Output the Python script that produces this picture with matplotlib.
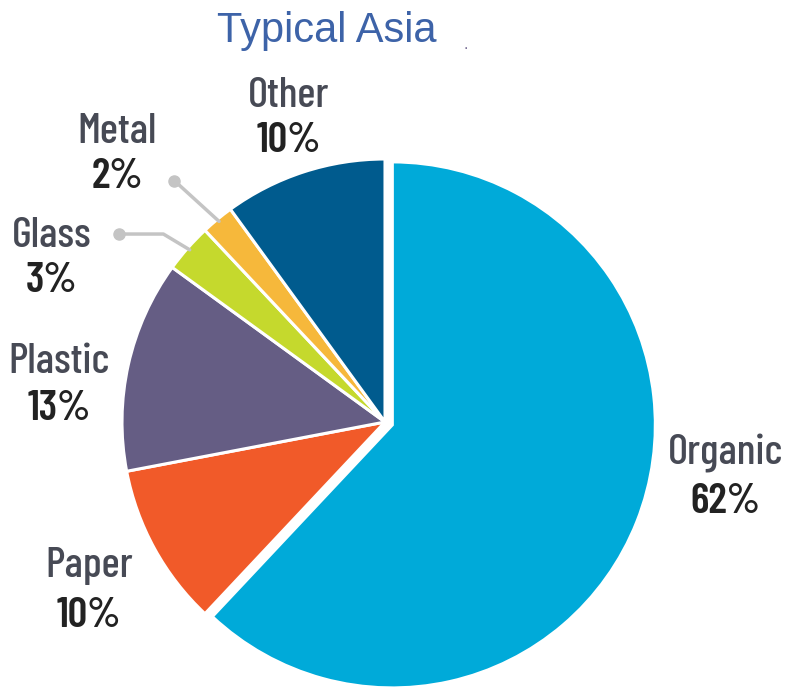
import matplotlib.pyplot as plt
import numpy as np

# waste composition, clockwise from 12 o'clock
categories = ["Organic", "Paper", "Plastic", "Glass", "Metal", "Other"]
shares = [62, 10, 13, 3, 2, 10]
pct_labels = ["62%", "10%", "13%", "3%", "2%", "10%"]
colors = ["#00AAD9", "#F15A29", "#655D84", "#C5D92D", "#F6B83B", "#005B8E"]
explode = [0.03, 0, 0, 0, 0, 0]

# label placement in px: centre x, baseline of name, baseline of percentage
label_px = {
    "Organic": (725, 465, 513),
    "Paper": (89, 577, 627),
    "Plastic": (59, 373, 420),
    "Glass": (52, 247, 292),
    "Metal": (117, 143, 188),
    "Other": (289, 107, 152),
}
leader = ["Glass", "Metal"]

W, H = 785, 695
scale = 263.0            # px per pie unit
cx, cy = 385.0, 422.0    # pie centre in px from top-left


def to_data(px, py):
    return (px - cx) / scale, (cy - py) / scale


fig = plt.figure(figsize=(W / 100, H / 100), dpi=100)
ax = fig.add_axes([0, 0, 1, 1])

wedges, _ = ax.pie(shares, colors=colors, startangle=90, counterclock=False,
                   explode=explode, radius=1.0,
                   wedgeprops=dict(edgecolor="white", linewidth=2.2))
ax.set_xlim(-cx / scale, (W - cx) / scale)
ax.set_ylim(-(H - cy) / scale, cy / scale)
ax.set_aspect("auto")
ax.axis("off")

lab_font = ["Barlow Condensed", "DejaVu Sans"]
for w, name, pct in zip(wedges, categories, pct_labels):
    px, b1, b2 = label_px[name]
    x, y1 = to_data(px, b1)
    _, y2 = to_data(px, b2)
    ax.text(x, y1, name, ha="center", va="baseline", fontsize=31,
            family=lab_font, fontweight="medium", color="#474a55")
    ax.text(x, y2, pct, ha="center", va="baseline", fontsize=31,
            family=lab_font, fontweight="semibold", color="#222222")
    if name in leader:
        mid = np.deg2rad((w.theta1 + w.theta2) / 2)
        ex, ey = np.cos(mid) * 0.99, np.sin(mid) * 0.99
        if name == "Metal":
            xs = [ex, ex - 0.17]
            ys = [ey, ey + 0.155]
        else:
            xs = [ex, ex - 0.10, ex - 0.27]
            ys = [ey, ey + 0.06, ey + 0.06]
        ax.plot(xs, ys, color="#c4c4c4", lw=2.5, solid_capstyle="round", zorder=1)
        ax.plot(xs[-1], ys[-1], "o", color="#c4c4c4", ms=8, zorder=1)

fig.text(327 / W, 1 - 42 / H, "Typical Asia", ha="center", va="baseline",
         fontsize=30, family=["Liberation Sans", "DejaVu Sans"], color="#3D63A8")
fig.text(466 / W, 1 - 49 / H, ".", ha="center", va="baseline",
         fontsize=10, color="#6a5f8a")

fig.savefig("out.png", dpi=100)
